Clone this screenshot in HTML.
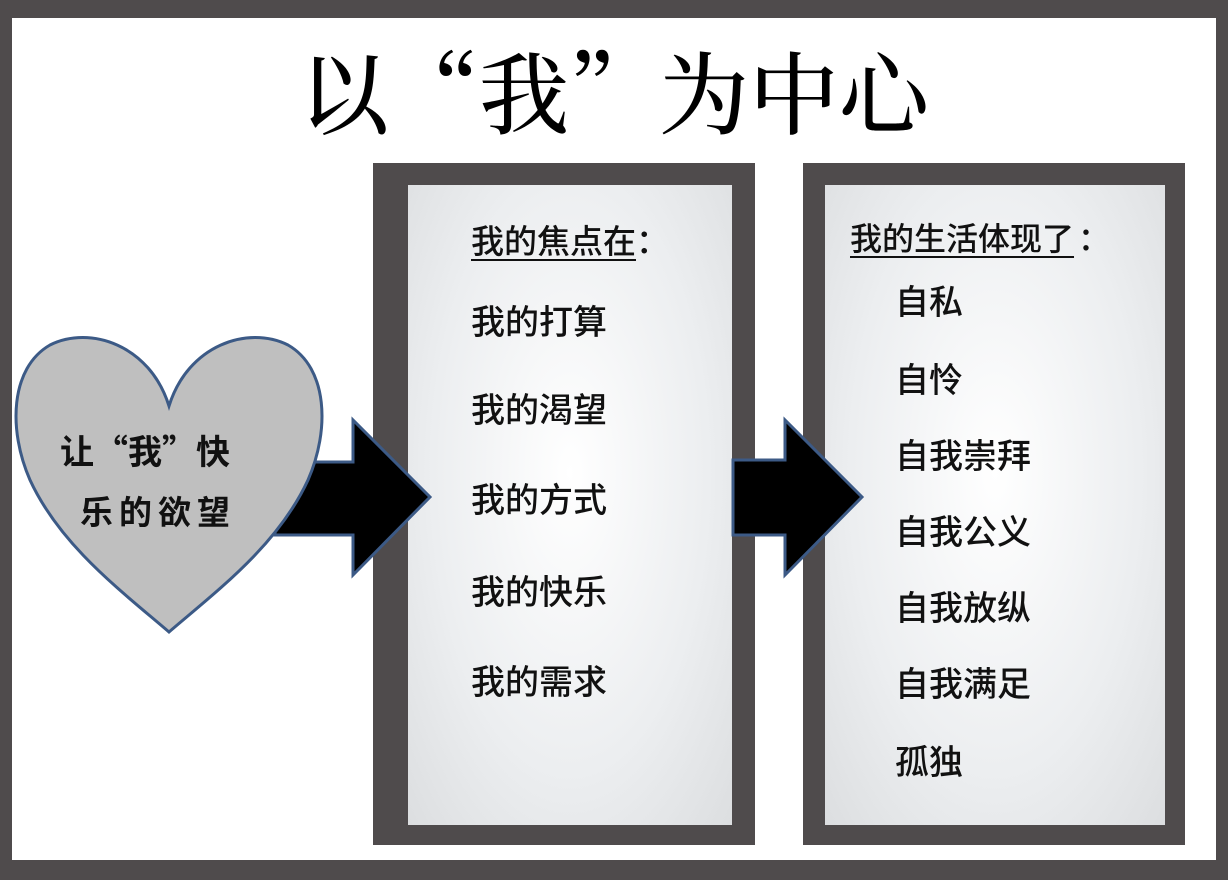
<!DOCTYPE html>
<html><head><meta charset="utf-8"><style>
body{margin:0;width:1228px;height:880px;background:#4f4b4c;position:relative;overflow:hidden;font-family:"Noto Sans CJK SC","Liberation Sans",sans-serif}
.w{position:absolute;left:12px;top:18px;width:1204px;height:842px;background:#fff}
.t{position:absolute;left:0;width:1228px;top:33px;text-align:center;font-family:"Noto Serif CJK SC",serif;font-size:90px;line-height:110px;color:#000;font-weight:500;padding-left:0}
.f{position:absolute;background:#4f4b4c}
.in{position:absolute;background:radial-gradient(ellipse at 50% 45%,#fff 0%,#eceef0 60%,#dcdee0 100%)}
.x{position:absolute;font-size:34px;font-weight:500;line-height:40px;color:#111;white-space:nowrap}
.u{text-decoration:underline;text-underline-offset:6px;text-decoration-thickness:2px}
</style></head><body>
<div class="w"></div>
<div class="t">以“我”为中心</div>
<div class="f" style="left:373px;top:163px;width:382px;height:682px"></div>
<div class="in" style="left:408px;top:185px;width:324px;height:640px"></div>
<div class="f" style="left:803px;top:163px;width:382px;height:682px"></div>
<div class="in" style="left:825px;top:185px;width:340px;height:640px"></div>
<svg width="1228" height="880" style="position:absolute;left:0;top:0">
<path d="M275 462 H353 V420 L430 497 L353 575 V535 H275 Z" fill="#000" stroke="#3c5a86" stroke-width="3"/>
<path d="M733 460 H785 V420 L862 497 L785 575 V535 H733 Z" fill="#000" stroke="#3c5a86" stroke-width="3"/>
<path d="M169 406 C150 345 90 325 50 345 C10 368 8 430 30 480 C60 545 120 590 169 632 C218 590 278 545 308 480 C330 430 328 368 288 345 C248 325 188 345 169 406 Z" fill="#bfbfbf" stroke="#3c5a86" stroke-width="3"/>
</svg>
<div class="x" style="left:60px;top:430px;font-size:34px;font-weight:bold;letter-spacing:0px">让<span style="letter-spacing:0">“我”</span>快</div>
<div class="x" style="left:80px;top:490px;font-size:33px;font-weight:bold;letter-spacing:6px">乐的欲望</div>
<div class="x u" style="left:471px;top:219px;font-size:33px">我的焦点在</div><div class="x" style="left:636px;top:219px;font-size:33px">：</div>
<div class="x" style="left:471px;top:300px">我的打算</div>
<div class="x" style="left:471px;top:388px">我的渴望</div>
<div class="x" style="left:471px;top:478px">我的方式</div>
<div class="x" style="left:471px;top:570px">我的快乐</div>
<div class="x" style="left:471px;top:660px">我的需求</div>
<div class="x u" style="left:850px;top:217px;font-size:32px">我的生活体现了</div><div class="x" style="left:1078px;top:217px;font-size:32px">：</div>
<div class="x" style="left:895px;top:280px">自私</div>
<div class="x" style="left:895px;top:358px">自怜</div>
<div class="x" style="left:895px;top:434px">自我崇拜</div>
<div class="x" style="left:895px;top:510px">自我公义</div>
<div class="x" style="left:895px;top:586px">自我放纵</div>
<div class="x" style="left:895px;top:662px">自我满足</div>
<div class="x" style="left:895px;top:740px">孤独</div>
</body></html>
